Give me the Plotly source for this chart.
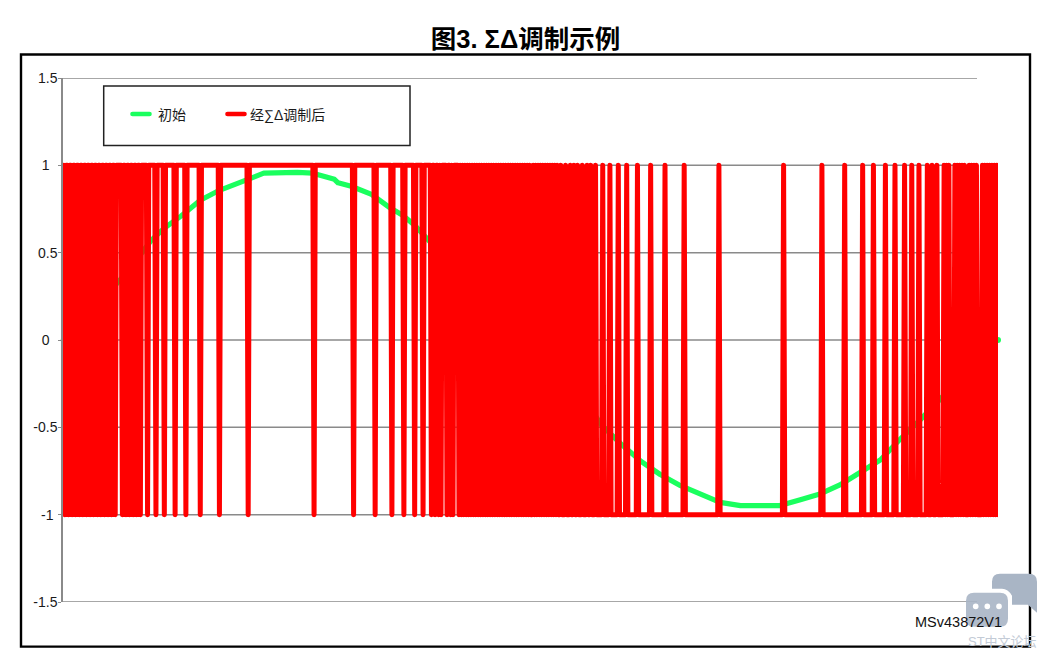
import plotly.graph_objects as go

W, H = 1045, 657
PL, PR, PT, PB = 63, 998, 77.5, 602.3
GRID_END_PX = 977

title = "图3. ΣΔ调制示例"
name_green = "初始"
name_red = "经∑Δ调制后"
source_tag = "MSv43872V1"
watermark = "ST中文论坛"

y_ticks = [1.5, 1, 0.5, 0, -0.5, -1, -1.5]
y_tick_text = ["1.5", "1\u00a0\u00a0", "0.5", "0\u00a0\u00a0", "-0.5", "-1\u00a0", "-1.5"]

green_x = [0, 32, 52, 73, 84, 98, 114, 130, 154, 167, 195, 208, 226, 229, 240, 257, 273, 283, 293,
           305, 323, 348, 390, 432, 448, 466, 482, 498, 515, 532, 548, 565, 598, 615, 632, 648, 665,
           682, 698, 715, 740, 761, 780]
green_y = [0, 0.24, 0.38, 0.57, 0.64, 0.71, 0.80, 0.857, 0.925, 0.955, 0.96, 0.955, 0.92, 0.90, 0.88,
           0.834, 0.754, 0.714, 0.657, 0.57, 0.43, 0.25, 0, -0.30, -0.48, -0.60, -0.695, -0.77, -0.834,
           -0.886, -0.93, -0.948, -0.948, -0.914, -0.88, -0.83, -0.754, -0.686, -0.57, -0.457, -0.28,
           -0.12, 0]

sample_count = 781
split_sample = 390
# samples that sit at -1 while the stream idles at +1
low_samples = [1, 4, 7, 10, 13, 16, 19, 22, 25, 28, 31, 34, 37, 40, 43, 49, 52, 55, 58, 61, 64, 70, 77,
               84, 93, 102, 114, 130, 154, 209, 242, 260, 274, 284, 293, 300, 307, 310, 313, 315,
               320, 323, 325, 330, 332, 334, 336, 338, 340, 342, 344, 346, 348, 350, 352, 354, 356,
               358, 360, 362, 364, 366, 368, 370, 372, 374, 376, 378, 380, 382, 384, 386, 388]
# samples that sit at +1 while the stream idles at -1
high_samples = [392, 394, 396, 398, 400, 402, 404, 406, 408, 410, 412, 415, 419, 423, 426, 429, 433, 437,
                440, 444, 450, 456, 463, 470, 479, 490, 502, 518, 547, 601, 633, 652, 667, 676, 686,
                694, 702, 708, 714, 721, 725, 729, 735, 737, 739, 744, 746, 748, 750, 752, 756, 758,
                760, 762, 767, 769, 771, 773, 775, 777, 779]

red_x = list(range(sample_count))
low_set, high_set = set(low_samples), set(high_samples)
red_y = []
for n in red_x:
    if n < split_sample:
        red_y.append(-1 if n in low_set else 1)
    else:
        red_y.append(1 if n in high_set else -1)


def fx(px):
    return (px - PL) / (PR - PL)


def fy(py):
    return (PB - py) / (PB - PT)


def path(cmds):
    out = []
    for c in cmds:
        if len(c) == 1:
            out.append(c[0])
        else:
            vals = list(c[1:])
            pts = " ".join(f"{fx(vals[i]):.5f},{fy(vals[i + 1]):.5f}" for i in range(0, len(vals), 2))
            out.append(f"{c[0]} {pts}")
    return " ".join(out)


GREEN = "#1AFF5E"
RED = "#FF0000"
BUB = "#A9B5C5"
GRID = "#8A8A8A"
FONT = "Liberation Sans, Noto Sans CJK SC, sans-serif"
x_start = -0.6
x_scale = (PR - PL) / (sample_count - 1 - x_start)

fig = go.Figure()
fig.add_trace(go.Scatter(x=green_x, y=green_y, mode="lines", name=name_green,
                         line=dict(color=GREEN, width=5.2), cliponaxis=False))
fig.add_trace(go.Scatter(x=[green_x[0], green_x[-1]], y=[green_y[0], green_y[-1]], mode="markers",
                         marker=dict(color=GREEN, size=6), showlegend=False, cliponaxis=False,
                         hoverinfo="skip"))
fig.add_trace(go.Scatter(x=red_x, y=red_y, mode="lines", name=name_red, legend="legend2",
                         line=dict(color=RED, width=5.0, simplify=False), cliponaxis=False))

shapes = [
    dict(type="rect", xref="paper", yref="paper", x0=fx(21), x1=fx(1030), y0=fy(647), y1=fy(54),
         line=dict(color="#000000", width=2.4), layer="below"),
]
for tick in y_ticks:
    shapes.append(dict(type="line", xref="x", yref="y", x0=x_start,
                       x1=x_start + (GRID_END_PX - PL) / x_scale,
                       y0=tick, y1=tick, line=dict(color=GRID, width=1.5), layer="below"))
shapes += [
    dict(type="rect", xref="paper", yref="paper", x0=fx(103.7), x1=fx(410), y0=fy(145), y1=fy(85.5),
         line=dict(color="#222222", width=1.5), fillcolor="#FFFFFF", layer="above"),
    dict(type="path", xref="paper", yref="paper", layer="above", line=dict(width=0), fillcolor=BUB,
         path=path([("M", 992, 589), ("L", 992, 582), ("Q", 992, 574, 1000, 574), ("L", 1029, 574),
                    ("Q", 1037, 574, 1037, 582), ("L", 1037, 613), ("L", 1028, 605), ("L", 1012, 605),
                    ("L", 1012, 596), ("Q", 1008, 589, 1002, 589), ("Z",)])),
    dict(type="path", xref="paper", yref="paper", layer="above", line=dict(width=0), fillcolor=BUB,
         opacity=0.9,
         path=path([("M", 966, 601), ("Q", 966, 593, 974, 593), ("L", 1000, 593),
                    ("Q", 1008, 593, 1008, 601), ("L", 1008, 619), ("Q", 1008, 627, 1000, 627),
                    ("L", 974, 627), ("Q", 966, 627, 966, 619), ("Z",)])),
]
for cx in (975.7, 987.3, 999):
    shapes.append(dict(type="circle", xref="paper", yref="paper", layer="above", line=dict(width=0),
                       fillcolor="#FFFFFF", x0=fx(cx - 2.8), x1=fx(cx + 2.8), y0=fy(606.7 + 2.8),
                       y1=fy(606.7 - 2.8)))

legend_common = dict(orientation="h", y=fy(114), xanchor="left", yanchor="middle",
                     bgcolor="rgba(0,0,0,0)", borderwidth=0, itemwidth=30,
                     font=dict(family=FONT, size=14, color="#1A1A1A"))

fig.update_layout(
    width=W, height=H, autosize=False,
    margin=dict(l=PL, r=W - PR, t=PT, b=H - PB, pad=0),
    paper_bgcolor="#FFFFFF", plot_bgcolor="#FFFFFF",
    font=dict(family=FONT, size=14, color="#1A1A1A"),
    title=dict(text=f"<b>{title}</b>", x=525.5 / W, xanchor="center", y=1 - 39.5 / H, yanchor="middle",
               font=dict(family=FONT, size=25.5, color="#000000")),
    xaxis=dict(range=[x_start, sample_count - 1], showgrid=False, zeroline=False, showticklabels=False,
               ticks="", showline=False),
    yaxis=dict(range=[-1.5, 1.5], tickmode="array", tickvals=y_ticks, ticktext=y_tick_text,
               showgrid=False, zeroline=False,
               showline=True, linecolor=GRID, linewidth=1.5, ticks="outside", ticklen=3,
               tickcolor=GRID, ticklabelstandoff=-2,
               tickfont=dict(family=FONT, size=14, color="#1A1A1A")),
    legend=dict(x=fx(118), **legend_common),
    legend2=dict(x=fx(210), **legend_common),
    shapes=shapes,
    annotations=[
        dict(text=source_tag, xref="paper", yref="paper", x=fx(1004.5), y=fy(622), xanchor="right",
             yanchor="middle", showarrow=False, font=dict(family=FONT, size=14.5, color="#111111")),
        dict(text=watermark, xref="paper", yref="paper", x=fx(1002), y=fy(642), xanchor="center",
             yanchor="middle", showarrow=False, font=dict(family=FONT, size=13, color="#C3CBD6")),
    ],
    showlegend=True,
    hovermode=False,
)

page_style = (
    "document.body.style.margin='0';document.body.style.overflow='hidden';"
    "var s=document.createElement('style');"
    "s.textContent='.js-line{stroke-linejoin:round !important;stroke-linecap:round !important}"
    ".legendlines .js-line{stroke-dasharray:17 100 !important;stroke-width:4.6px !important}"
    ".legend .legendlines .js-line{stroke-dashoffset:-9.5 !important}"
    ".legend2 .legendlines .js-line{stroke-dashoffset:-12.5 !important}';"
    "document.head.appendChild(s);"
)
fig.write_html("out.html", config={"displayModeBar": False}, post_script=page_style)
